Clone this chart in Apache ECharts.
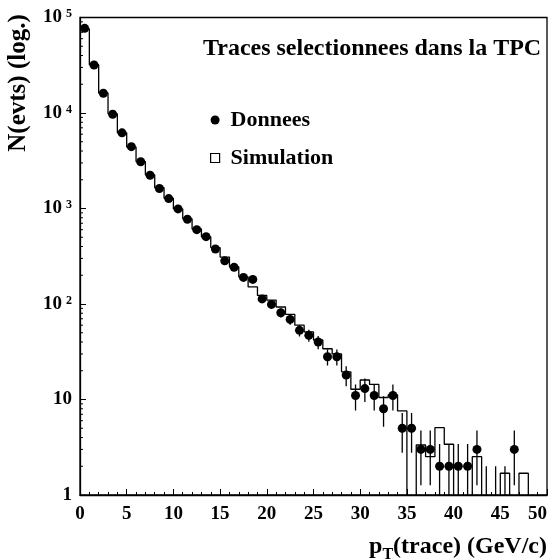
<!DOCTYPE html>
<html><head><meta charset="utf-8">
<script src="https://cdn.jsdelivr.net/npm/echarts@6/dist/echarts.min.js"></script>
<style>html,body{margin:0;padding:0;background:#fff}#c{width:557px;height:560px}</style>
</head><body><div id="c"></div>
<script>
// bin low edges (GeV/c), bin width 1
const binLow = [0,1,2,3,4,5,6,7,8,9,10,11,12,13,14,15,16,17,18,19,20,21,22,23,24,25,26,27,28,29,30,31,32,33,34,35,36,37,38,39,40,41,42,43,44,45,46,47,48,49];
const binWidth = 1;
// Donnees (counts per bin)
const dataCounts = [77000,31800,16100,9700,6200,4440,3090,2230,1620,1270,990,771,600,507,377,283,242,190,181,113,99,81,69,53,47,40,28,28,18,11,13,11,8,11,5,5,3,3,2,2,2,2,3,1,1,1,3,0,0,0];
// Simulation (normalised histogram)
const simValues = [76000,32000,16200,9800,6200,4400,3100,2250,1650,1280,990,780,610,505,390,310,245,192,151,123,110,93,78,60,51,42,34,30,19.5,12.8,16,14.4,10.5,11.2,7.6,0,3.34,2.52,5.07,3.4,0,0,2.52,0,0,1.69,0,1.69,0,0];
const xTickValues = [0,5,10,15,20,25,30,35,40,45,50];
const yMinorTicks = [2,3,4,5,6,7,8,9,20,30,40,50,60,70,80,90,200,300,400,500,600,700,800,900,2000,3000,4000,5000,6000,7000,8000,9000,20000,30000,40000,50000,60000,70000,80000,90000];

const FONT = '"Liberation Serif","Times New Roman",serif';
const BELOW = 1e-3;

const centers = binLow.map(l => l + binWidth/2);
const pts = [], errs = [];
dataCounts.forEach((n,i) => {
  if (n > 1) pts.push([centers[i], n]);
  if (n > 0) { const s = Math.sqrt(n); errs.push([centers[i], n - s, n + s]); }
});
const simLine = [];
simValues.forEach((v,i) => {
  const y = v > 0 ? v : BELOW;
  simLine.push([binLow[i], y]); simLine.push([binLow[i] + binWidth, y]);
});

const chart = echarts.init(document.getElementById('c'), null, {renderer:'canvas'});
const axisTxt = {fontFamily: FONT, fontWeight: 'bold', color: '#000'};
chart.setOption({
  animation: false,
  backgroundColor: '#fff',
  grid: {left: 80, right: 10, top: 17, bottom: 65, show: true, borderColor: '#000', borderWidth: 1.3, backgroundColor: 'transparent'},
  xAxis: {
    type: 'value', min: 0, max: 50, interval: 5,
    axisLine: {show: true, onZero: false, lineStyle: {color: '#000', width: 1.3}},
    axisTick: {show: true, inside: true, length: 6, lineStyle: {color: '#000', width: 1}},
    minorTick: {show: true, splitNumber: 5, length: 3, lineStyle: {color: '#000', width: 1}},
    splitLine: {show: false},
    axisLabel: Object.assign({fontSize: 19, margin: 10, alignMaxLabel: 'right', formatter: v => String(v)}, axisTxt)
  },
  yAxis: {
    type: 'log', logBase: 10, min: 1, max: 100000,
    axisLine: {show: true, onZero: false, lineStyle: {color: '#000', width: 1.3}},
    axisTick: {show: true, inside: true, length: 6, lineStyle: {color: '#000', width: 1}},
    splitLine: {show: false},
    axisLabel: {
      margin: 8,
      formatter: v => {
        if (v === 1) return '{p|1}';
        if (v === 10) return '{p|10}';
        const e = Math.round(Math.log10(v));
        return '{b|10}{e|' + e + '}';
      },
      rich: {
        p: Object.assign({fontSize: 19, lineHeight: 19}, axisTxt),
        b: Object.assign({fontSize: 19, lineHeight: 19, verticalAlign: 'bottom', padding: [8,0,0,0]}, axisTxt),
        e: Object.assign({fontSize: 12, lineHeight: 12, verticalAlign: 'top', padding: [0,0,0,4]}, axisTxt)
      }
    }
  },
  legend: {
    orient: 'vertical', left: 205, top: 103, itemWidth: 9, itemHeight: 9, itemGap: 14,
    selectedMode: false,
    textStyle: {fontFamily: FONT, fontWeight: 'bold', fontSize: 22, lineHeight: 24, color: '#000', padding: [0,0,0,6]},
    data: [
      {name: 'Donnees', icon: 'circle', itemStyle: {color: '#000', opacity: 1}},
      {name: 'Simulation', icon: 'rect', itemStyle: {color: '#fff', borderColor: '#000', borderWidth: 1.2}}
    ]
  },
  graphic: [
    {type: 'text', x: 203, y: 49, style: {text: 'Traces selectionnees dans la TPC', font: 'bold 24px ' + FONT, fill: '#000', align: 'left', verticalAlign: 'middle'}},
    {type: 'text', x: 19, y: 83, rotation: Math.PI/2, style: {text: 'N(evts) (log.)', font: 'bold 25px ' + FONT, fill: '#000', align: 'center', verticalAlign: 'middle'}},
    {type: 'text', x: 547, y: 535, style: {
      text: '{n|p}{s|T}{n|(trace) (GeV/c)}', align: 'right', verticalAlign: 'top',
      rich: {
        n: {fontFamily: FONT, fontWeight: 'bold', fontSize: 24, lineHeight: 24, verticalAlign: 'top', fill: '#000'},
        s: {fontFamily: FONT, fontWeight: 'bold', fontSize: 16, lineHeight: 16, verticalAlign: 'top', padding: [12,0,0,0], fill: '#000'}
      }}}
  ],
  series: [
    {name: 'Simulation', type: 'line', data: simLine, symbol: 'none', clip: true,
     lineStyle: {color: '#000', width: 1.3}, itemStyle: {color: '#000'}, z: 2},
    {name: 'errors', type: 'custom', data: errs, clip: true, z: 3,
     renderItem: (params, api) => {
       const cs = params.coordSys;
       const bottom = cs.y + cs.height;
       const lo = api.value(1), hi = api.value(2);
       const p1 = api.coord([api.value(0), hi]);
       const yLo = lo > 0 ? Math.min(api.coord([api.value(0), lo])[1], bottom) : bottom;
       return {type: 'line', shape: {x1: p1[0], y1: Math.max(p1[1], cs.y), x2: p1[0], y2: yLo},
               style: {stroke: '#000', lineWidth: 1.3}};
     }},
    {name: 'Donnees', type: 'scatter', data: pts, symbol: 'circle', symbolSize: 9,
     itemStyle: {color: '#000', opacity: 1}, z: 4},
    {name: 'minorY', type: 'custom', data: yMinorTicks.map(v => [0, v]), z: 5, silent: true,
     renderItem: (params, api) => {
       const p = api.coord([0, api.value(1)]);
       return {type: 'line', shape: {x1: p[0], y1: p[1], x2: p[0] + 3, y2: p[1]}, style: {stroke: '#000', lineWidth: 1}};
     }}
  ]
});
</script></body></html>
